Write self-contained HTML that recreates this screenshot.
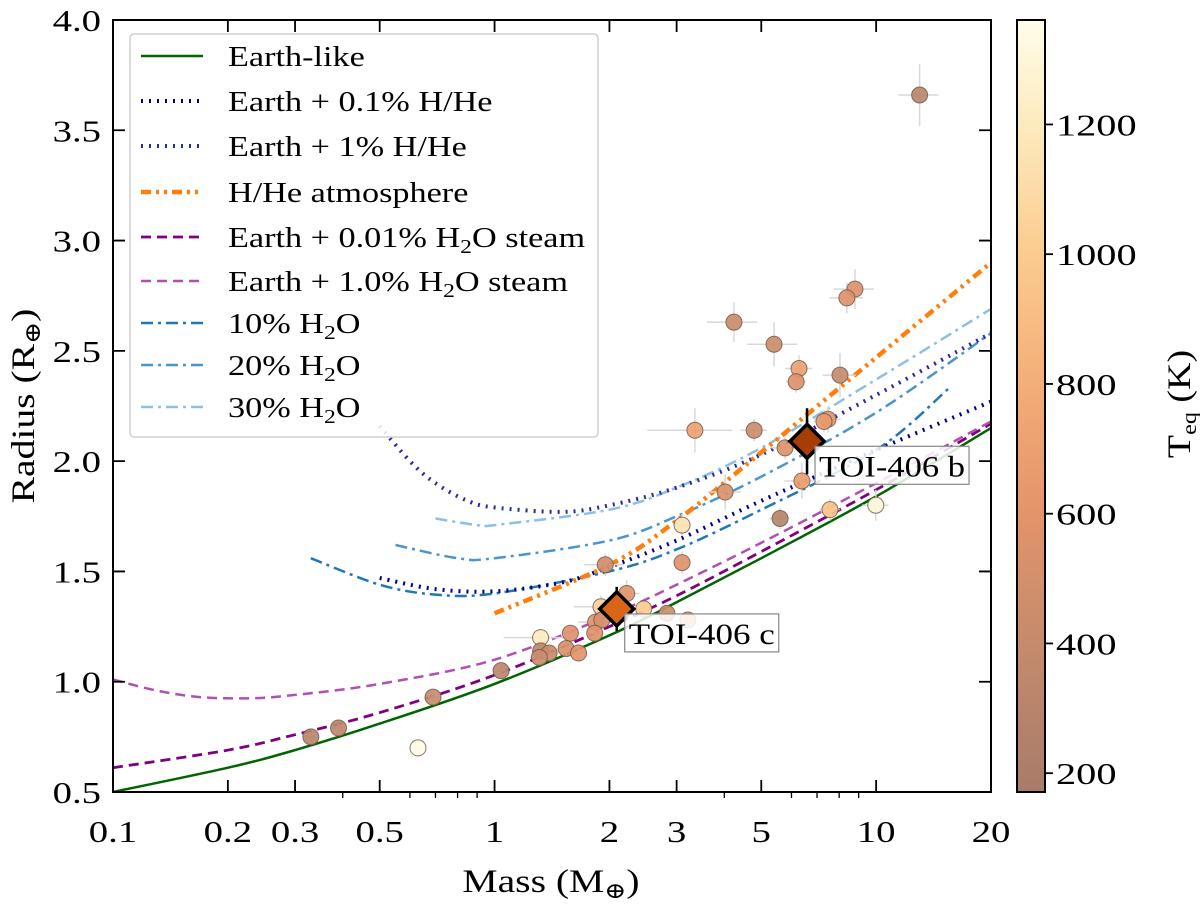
<!DOCTYPE html>
<html><head><meta charset="utf-8">
<style>
html,body{margin:0;padding:0;background:#fff;}
svg{display:block;font-family:"Liberation Serif","DejaVu Serif",serif;}
</style></head>
<body>
<svg id="chart" width="1200" height="904" viewBox="0 0 1200 904" xmlns="http://www.w3.org/2000/svg">
<defs>
<linearGradient id="cbgrad" x1="0" y1="1" x2="0" y2="0">
<stop offset="0" stop-color="#a87c6a"/>
<stop offset="0.195" stop-color="#c58b6c"/>
<stop offset="0.363" stop-color="#e4946a"/>
<stop offset="0.531" stop-color="#f4ae78"/>
<stop offset="0.699" stop-color="#fbcc8f"/>
<stop offset="0.867" stop-color="#fdebc0"/>
<stop offset="1" stop-color="#fffde8"/>
</linearGradient>
<clipPath id="plotclip"><rect x="113" y="20" width="878" height="772"/></clipPath>
</defs>
<g id="curves" clip-path="url(#plotclip)"></g>
<g id="errs" clip-path="url(#plotclip)"></g>
<g id="points" clip-path="url(#plotclip)"></g>
<g id="toi"></g>
<g id="axes"></g>
<g id="legend"></g>
<g id="cbar"></g>
</svg>
<script>
// ---- data ----
const xTicks = [0.1,0.2,0.3,0.5,1,2,3,5,10,20];
const xTickLabels = ["0.1","0.2","0.3","0.5","1","2","3","5","10","20"];
const xMinorTicks = [0.4,0.6,0.7,0.8,0.9,4,6,7,8,9];
const yTicks = [0.5,1.0,1.5,2.0,2.5,3.0,3.5,4.0];
const yTickLabels = ["0.5","1.0","1.5","2.0","2.5","3.0","3.5","4.0"];
const cbTicks = [200,400,600,800,1000,1200];

const earthLikeM = [0.1,0.2,0.3,0.5,1,2,3,5,10,20];
const earthLikeR = [0.5,0.61,0.69,0.81,0.99,1.21,1.36,1.56,1.84,2.15];
const steam001M = [0.1,0.2,0.3,0.5,1,2,3,5,10,20];
const steam001R = [0.61,0.69,0.76,0.86,1.03,1.25,1.39,1.59,1.87,2.17];
const steam1M = [0.1,0.13,0.17,0.23,0.3,0.5,1,2,3,5,10,20];
const steam1R = [1.01,0.96,0.93,0.925,0.94,0.99,1.1,1.3,1.44,1.63,1.9,2.18];
const hhe01M = [0.5,0.7,1,1.5,2,3,5,10,20];
const hhe01R = [1.47,1.42,1.41,1.45,1.52,1.64,1.82,2.05,2.27];
const hhe1M = [0.5,0.6,0.7,0.85,1,1.5,2,3,5,10,20];
const hhe1R = [2.16,2.0,1.9,1.82,1.79,1.77,1.8,1.88,2.03,2.3,2.58];
const hheAtmM = [1,2,3,5,10,20];
const hheAtmR = [1.31,1.53,1.73,2.04,2.47,2.9];
const h2o10M = [0.33,0.5,0.7,1,2,3,5,10,15.5];
const h2o10R = [1.56,1.44,1.395,1.4,1.5,1.6,1.78,2.05,2.33];
const h2o20M = [0.55,0.8,1,2,3,5,10,20];
const h2o20R = [1.62,1.56,1.56,1.64,1.75,1.93,2.22,2.58];
const h2o30M = [0.7,0.9,1,2,3,5,10,20];
const h2o30R = [1.74,1.71,1.71,1.78,1.88,2.06,2.37,2.69];

const ptMass = [8.80,8.38,4.24,5.40,6.28,6.17,8.04,7.48,7.30,3.35,4.79,5.77,6.39,4.02,7.57,5.60,3.10,9.98,1.95,3.10,2.22,1.90,2.46,2.83,3.21,1.84,1.91,1.83,1.58,1.32,1.32,1.39,1.31,1.54,1.66,1.04,0.69,0.39,0.33,0.63,13.0];
const ptRadius = [2.78,2.74,2.63,2.53,2.42,2.36,2.39,2.19,2.18,2.14,2.14,2.06,1.91,1.86,1.78,1.74,1.71,1.80,1.53,1.54,1.40,1.34,1.33,1.31,1.28,1.27,1.28,1.22,1.22,1.20,1.14,1.13,1.11,1.15,1.13,1.05,0.93,0.79,0.75,0.70,3.66];
const ptTeq = [560,560,450,450,700,560,400,600,650,700,450,580,680,530,950,280,1150,1300,480,580,600,1050,1000,450,650,600,520,580,580,1200,350,420,450,550,600,350,400,350,300,1350,320];
const ptMassErr = [0.12,0.1,0.15,0.15,0.08,0.06,0.1,0.08,0.06,0.25,0.08,0.08,0.1,0.1,0.06,0.06,0.05,0.08,0.12,0.05,0.08,0.15,0.05,0.05,0.05,0.1,0.05,0.05,0.05,0.2,0.05,0.05,0.05,0.05,0.05,0.03,0.03,0.03,0.03,0.05,0.12];
const ptRadErr = [0.09,0.07,0.09,0.1,0.06,0.05,0.1,0.06,0.05,0.1,0.05,0.05,0.08,0.08,0.05,0.05,0.05,0.07,0.05,0.05,0.06,0.05,0.03,0.03,0.03,0.05,0.03,0.03,0.03,0.04,0.03,0.03,0.03,0.03,0.03,0.02,0.02,0.02,0.02,0.02,0.14];

const toiNames = ["TOI-406 b","TOI-406 c"];
const toiMass = [6.59,2.09];
const toiRadius = [2.09,1.33];
const toiMassErr = [0.11,0.09];
const toiRadErr = [0.15,0.1];
const toiColor = ["#a83c05","#d9651a"];

// ---- scales ----
const X0=113,X1=991,Y0=792,Y1=20;
const lmin=Math.log10(0.1),lmax=Math.log10(20);
function sx(m){return X0+(Math.log10(m)-lmin)/(lmax-lmin)*(X1-X0);}
function sy(r){return Y0-(r-0.5)/(4.0-0.5)*(Y0-Y1);}
const CB0=171,CB1=1361,CBY0=792,CBY1=20;
function scb(t){return CBY0-(t-CB0)/(CB1-CB0)*(CBY0-CBY1);}
const cmapStops=[[171,[168,124,106]],[403,[197,139,108]],[603,[228,148,106]],[803,[244,174,120]],[1003,[251,204,143]],[1203,[253,235,192]],[1361,[255,253,232]]];
function cmap(t){
  for(let i=0;i<cmapStops.length-1;i++){
    const a=cmapStops[i],b=cmapStops[i+1];
    if(t<=b[0]||i==cmapStops.length-2){
      let f=Math.max(0,Math.min(1,(t-a[0])/(b[0]-a[0])));
      const c=a[1].map((v,k)=>Math.round(v+(b[1][k]-v)*f));
      return "rgb("+c.join(",")+")";
    }
  }
}
const NS="http://www.w3.org/2000/svg";
function mk(tag,attrs,parent){const e=document.createElementNS(NS,tag);for(const k in attrs)e.setAttribute(k,attrs[k]);if(parent)parent.appendChild(e);return e;}
function widen(el,f){try{const L=el.getComputedTextLength();if(L>0){el.setAttribute("textLength",(L*f).toFixed(1));el.setAttribute("lengthAdjust","spacingAndGlyphs");}}catch(e){}}
function smoothPath(px){
  let d="M"+px[0][0].toFixed(1)+","+px[0][1].toFixed(1);
  for(let i=0;i<px.length-1;i++){
    const p0=px[Math.max(0,i-1)],p1=px[i],p2=px[i+1],p3=px[Math.min(px.length-1,i+2)];
    const c1=[p1[0]+(p2[0]-p0[0])/6,p1[1]+(p2[1]-p0[1])/6];
    const c2=[p2[0]-(p3[0]-p1[0])/6,p2[1]-(p3[1]-p1[1])/6];
    d+=`C${c1[0].toFixed(1)},${c1[1].toFixed(1)} ${c2[0].toFixed(1)},${c2[1].toFixed(1)} ${p2[0].toFixed(1)},${p2[1].toFixed(1)}`;
  }
  return d;
}

// ---- curves ----
const curves=[
 {m:earthLikeM,r:earthLikeR,c:"#006400",w:2.5,d:"",n:"earth-like-curve",label:"Earth-like"},
 {m:hhe01M,r:hhe01R,c:"#00008b",w:4,d:"2,6",n:"earth-0.1-hhe-curve",label:"Earth + 0.1% H/He"},
 {m:hhe1M,r:hhe1R,c:"#2a2aa0",w:4,d:"2,6",n:"earth-1-hhe-curve",label:"Earth + 1% H/He"},
 {m:hheAtmM,r:hheAtmR,c:"#ff7f0e",w:4.5,d:"10,5,3,5,3,5",n:"hhe-atmosphere-curve",label:"H/He atmosphere"},
 {m:steam001M,r:steam001R,c:"#800080",w:2.8,d:"10,6",n:"steam-0.01-curve",label:"Earth + 0.01% H\u2082O steam",sub:"0.01"},
 {m:steam1M,r:steam1R,c:"#b04fb4",w:2.5,d:"10,6",n:"steam-1-curve",label:"Earth + 1.0% H\u2082O steam",sub:"1.0"},
 {m:h2o10M,r:h2o10R,c:"#1f77b4",w:2.5,d:"12,5,3,5",n:"h2o-10-curve",label:"10% H2O",h:"10"},
 {m:h2o20M,r:h2o20R,c:"#4a95cc",w:2.5,d:"12,5,3,5",n:"h2o-20-curve",label:"20% H2O",h:"20"},
 {m:h2o30M,r:h2o30R,c:"#8cbfe3",w:2.5,d:"12,5,3,5",n:"h2o-30-curve",label:"30% H2O",h:"30"}
];
const gC=document.getElementById("curves");
[6,7,8,4,5,0,1,2,3].forEach(i=>{
  const c=curves[i];
  const px=c.m.map((m,k)=>[sx(m),sy(c.r[k])]);
  const el=mk("path",{d:smoothPath(px),fill:"none",stroke:c.c,"stroke-width":c.w,"stroke-dasharray":c.d,"stroke-linejoin":"round"},gC);
  
  
});

// ---- points ----
const gE=document.getElementById("errs"),gP=document.getElementById("points");
for(let i=0;i<ptMass.length;i++){
  const x=sx(ptMass[i]),y=sy(ptRadius[i]);
  const xl=sx(ptMass[i]*(1-ptMassErr[i])),xr=sx(ptMass[i]*(1+ptMassErr[i]));
  const yt=sy(ptRadius[i]+ptRadErr[i]),yb=sy(ptRadius[i]-ptRadErr[i]);
  const eb=mk("path",{d:`M${xl},${y}H${xr}M${x},${yt}V${yb}`,stroke:"#d8d8d8","stroke-width":1.5,fill:"none"},gE);
  
  
  const c=mk("circle",{cx:x,cy:y,r:8,fill:cmap(ptTeq[i]),"fill-opacity":0.92,stroke:"#6b5548","stroke-opacity":0.8,"stroke-width":1},gP);
  
  
}

// ---- TOI-406 ----
const gT=document.getElementById("toi");
for(let i=0;i<toiMass.length;i++){
  const x=sx(toiMass[i]),y=sy(toiRadius[i]);
  const xl=sx(toiMass[i]*(1-toiMassErr[i])),xr=sx(toiMass[i]*(1+toiMassErr[i]));
  const yt=sy(toiRadius[i]+toiRadErr[i]),yb=sy(toiRadius[i]-toiRadErr[i]);
  const eb=mk("path",{d:`M${xl},${y}H${xr}M${x},${yt}V${yb}`,stroke:"#000","stroke-width":2.5,fill:"none"},gT);
  
  
  const s=17;
  const d=mk("polygon",{points:`${x},${y-s} ${x+s},${y} ${x},${y+s} ${x-s},${y}`,fill:toiColor[i],stroke:"#000","stroke-width":3.5,"stroke-linejoin":"miter"},gT);
  
  
  const bx=x+8,by=y+5;
  const rb=mk("rect",{x:bx,y:by,width:154,height:38,fill:"#fff","fill-opacity":0.85,stroke:"#888","stroke-width":1.2},gT);
  
  
  const t=mk("text",{x:bx+4,y:by+30,"font-size":30,fill:"#000"},gT);
  t.textContent=toiNames[i];
  
  
  t.setAttribute("textLength","146");
  t.setAttribute("lengthAdjust","spacingAndGlyphs");
}

// ---- axes ----
const gA=document.getElementById("axes");
const fr=mk("rect",{x:X0,y:Y1,width:X1-X0,height:Y0-Y1,fill:"none",stroke:"#000","stroke-width":2},gA);


xTicks.forEach((v,i)=>{
  const x=sx(v);
  mk("path",{d:`M${x},${Y0}v-12M${x},${Y1}v12`,stroke:"#000","stroke-width":1.8},gA);
  const t=mk("text",{x:x,y:842,"font-size":31,"text-anchor":"middle",fill:"#000"},gA);
  t.textContent=xTickLabels[i];
  
  
  widen(t,1.25);
});
xMinorTicks.forEach(v=>{const x=sx(v);mk("path",{d:`M${x},${Y0}v6`,stroke:"#000","stroke-width":1.3},gA);});
yTicks.forEach((v,i)=>{
  const y=sy(v);
  mk("path",{d:`M${X0},${y}h12M${X1},${y}h-12`,stroke:"#000","stroke-width":1.8},gA);
  const t=mk("text",{x:101,y:y+11,"font-size":31,"text-anchor":"end",fill:"#000"},gA);
  t.textContent=yTickLabels[i];
  
  
  widen(t,1.25);
});
const xt=mk("text",{x:551,y:892,"font-size":33,"text-anchor":"middle",fill:"#000"},gA);
xt.innerHTML='Mass (M<tspan font-size="22" dy="6">\u2295</tspan><tspan dy="-6">)</tspan>';


widen(xt,1.2);
const yt=mk("text",{x:0,y:0,"font-size":33,"text-anchor":"middle",fill:"#000",transform:"translate(34,406) rotate(-90)"},gA);
yt.innerHTML='Radius (R<tspan font-size="22" dy="6">\u2295</tspan><tspan dy="-6">)</tspan>';


widen(yt,1.2);

// ---- legend ----
const gL=document.getElementById("legend");
const lb=mk("rect",{x:130,y:34,width:468,height:403,rx:4,fill:"#fff","fill-opacity":0.85,stroke:"#d0d0d0","stroke-width":1.5},gL);


const legY=[56,101,146,192,237,281,323,365,407];
curves.forEach((c,i)=>{
  const y=legY[i];
  const ln=mk("line",{x1:141,y1:y,x2:203,y2:y,stroke:c.c,"stroke-width":c.w,"stroke-dasharray":c.d},gL);
  
  
  const t=mk("text",{x:228,y:y+10,"font-size":29,fill:"#000"},gL);
  if(c.sub) t.innerHTML='Earth + '+c.sub+'% H<tspan font-size="20" dy="6">2</tspan><tspan dy="-6">O steam</tspan>';
  else if(c.h) t.innerHTML=c.h+'% H<tspan font-size="20" dy="6">2</tspan><tspan dy="-6">O</tspan>';
  else t.textContent=c.label;
  
  
  widen(t,1.18);
});

// ---- colorbar ----
const gB=document.getElementById("cbar");
const cb=mk("rect",{x:1017,y:20,width:28,height:772,fill:"url(#cbgrad)",stroke:"#000","stroke-width":2},gB);


cbTicks.forEach(v=>{
  const y=scb(v);
  mk("path",{d:`M1045,${y}h8`,stroke:"#000","stroke-width":1.8},gB);
  const t=mk("text",{x:1056,y:y+11,"font-size":31,fill:"#000"},gB);
  t.textContent=String(v);
  
  
  widen(t,1.3);
});
const ct=mk("text",{x:0,y:0,"font-size":33,"text-anchor":"middle",fill:"#000",transform:"translate(1190,404) rotate(-90)"},gB);
ct.innerHTML='T<tspan font-size="21" dy="6">eq</tspan><tspan dy="-6"> (K)</tspan>';


widen(ct,1.15);
</script>
</body></html>
